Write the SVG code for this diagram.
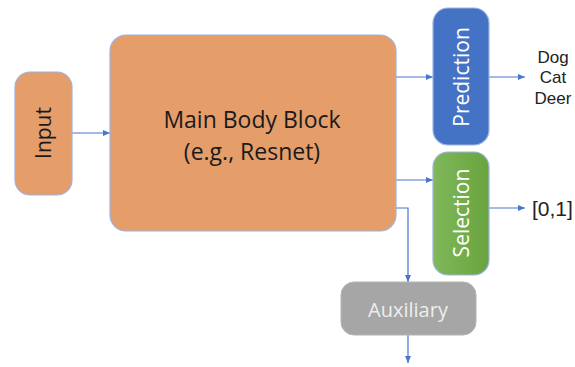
<svg xmlns="http://www.w3.org/2000/svg" width="575" height="367" viewBox="0 0 575 367">
<defs>
<style>
.box{stroke:#9DB3DF;stroke-width:1.2}
.orange{fill:#E59D6A}
.lbl{font-family:"Open Sans","DejaVu Sans",sans-serif;text-anchor:middle;dominant-baseline:central}
.out{font-family:"Liberation Sans",Arial,sans-serif;fill:#222;text-anchor:middle;dominant-baseline:central}
.conn{fill:none;stroke:#4A76C9;stroke-width:1.2}
</style>
<linearGradient id="gGreen" x1="0" y1="0" x2="1" y2="0">
<stop offset="0" stop-color="#80B85A"/>
<stop offset="1" stop-color="#68A43E"/>
</linearGradient>
<marker id="arr" markerWidth="8" markerHeight="8" refX="7" refY="4" orient="auto" markerUnits="userSpaceOnUse">
<path d="M0,1 L7,4 L0,7 Z" fill="#4A76C9"/>
</marker>
</defs>
<rect width="575" height="367" fill="#fff"/>
<g id="connectors">
<line class="conn" x1="72" y1="133" x2="110" y2="133" marker-end="url(#arr)"/>
<line class="conn" x1="396" y1="77" x2="433" y2="77" marker-end="url(#arr)"/>
<line class="conn" x1="489" y1="77" x2="525" y2="77" marker-end="url(#arr)"/>
<line class="conn" x1="396" y1="180" x2="433" y2="180" marker-end="url(#arr)"/>
<line class="conn" x1="489" y1="208" x2="525" y2="208" marker-end="url(#arr)"/>
<polyline class="conn" points="396,208 408,208 408,282" marker-end="url(#arr)"/>
<line class="conn" x1="408" y1="335" x2="408" y2="363" marker-end="url(#arr)"/>
</g>
<g id="input">
<rect class="box orange" x="15" y="72" width="57" height="123" rx="15"/>
<text class="lbl" transform="translate(43,133) rotate(-90)" font-size="21" fill="#1a1a1a">Input</text>
</g>
<g id="main">
<rect class="box orange" x="110" y="35" width="286" height="196" rx="16"/>
<text class="lbl" x="252" y="119" font-size="23" fill="#1a1a1a">Main Body Block</text>
<text class="lbl" x="252" y="151" font-size="23" fill="#1a1a1a">(e.g., Resnet)</text>
</g>
<g id="prediction">
<rect class="box" x="433" y="8" width="56" height="137" rx="15" fill="#4472C4"/>
<text class="lbl" transform="translate(461,77) rotate(-90)" font-size="21" fill="#fff">Prediction</text>
</g>
<g id="selection">
<rect class="box" x="433" y="152" width="56" height="123" rx="15" fill="url(#gGreen)"/>
<text class="lbl" transform="translate(461,213) rotate(-90)" font-size="21" fill="#fff">Selection</text>
</g>
<g id="auxiliary">
<rect x="341" y="282" width="135" height="53" rx="13" fill="#A6A6A6" stroke="#B4B4B4" stroke-width="1"/>
<text class="lbl" x="408" y="309" font-size="20" fill="#EEEEEE">Auxiliary</text>
</g>
<g id="outputs">
<text class="out" x="553" y="57" font-size="17">Dog</text>
<text class="out" x="553" y="77" font-size="17">Cat</text>
<text class="out" x="553" y="98" font-size="17">Deer</text>
<text class="out" x="532" y="208" font-size="21" style="text-anchor:start">[0,1]</text>
</g>
</svg>
